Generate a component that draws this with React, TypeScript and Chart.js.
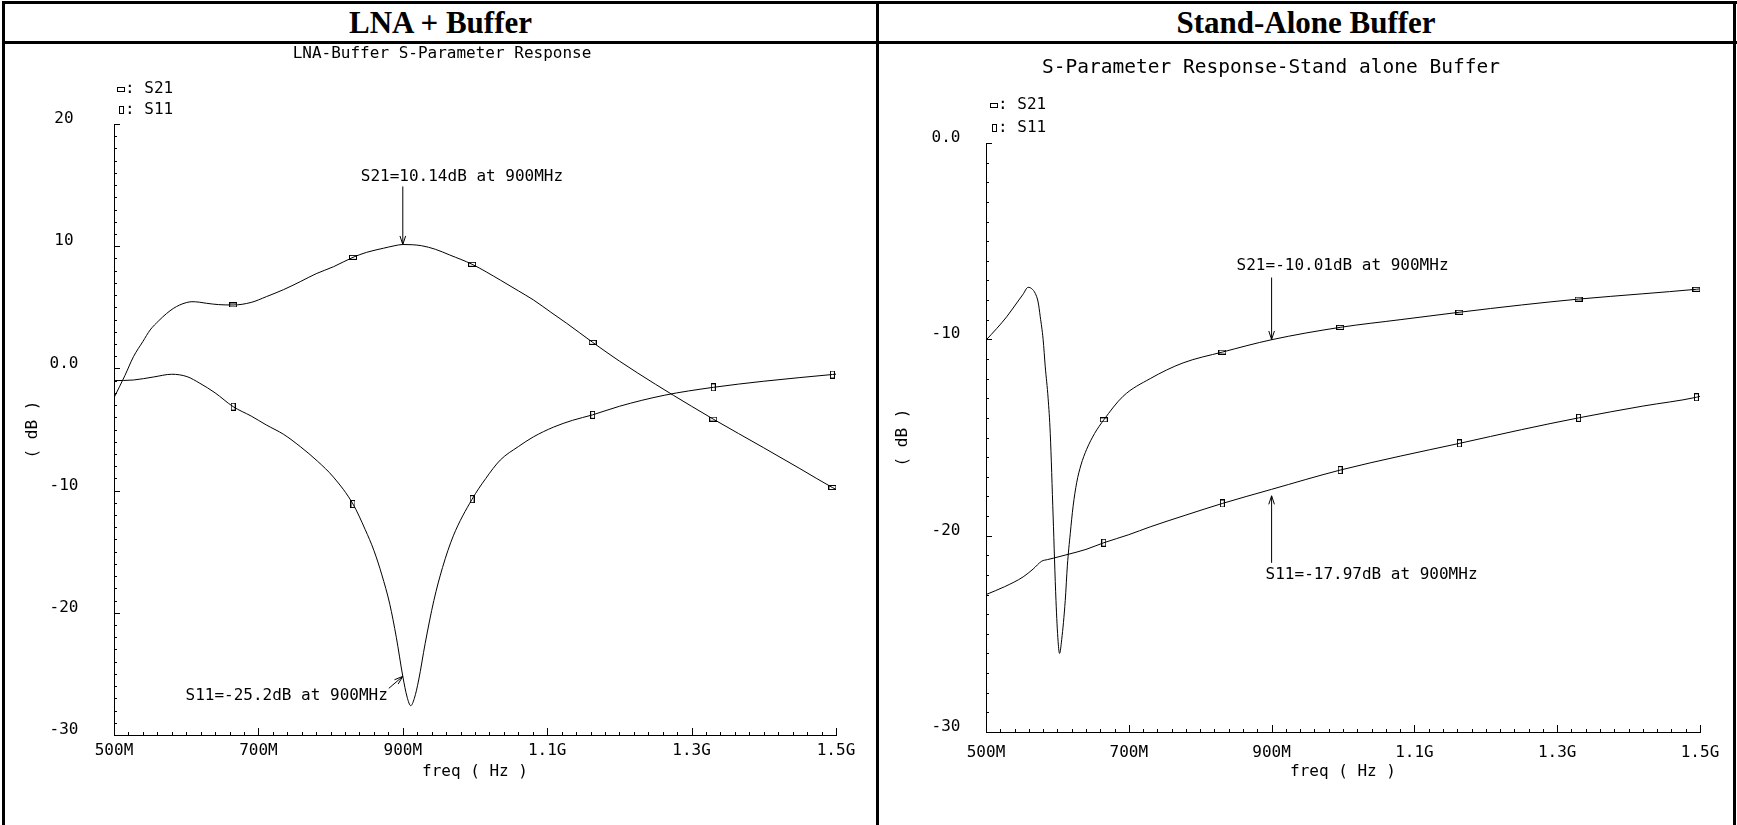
import React, { useEffect, useRef } from 'react';
import { Chart, registerables } from 'chart.js';

Chart.register(...registerables);

// ---------------- data ----------------
const X_TICKS = [500, 700, 900, 1100, 1300, 1500];
const X_TICK_LABELS = ['500M', '700M', '900M', '1.1G', '1.3G', '1.5G'];

const LEFT_Y_TICKS = [-30, -20, -10, 0, 10, 20];
const LEFT_Y_TICK_LABELS = ['-30', '-20', '-10', '0.0', '10', '20'];
const RIGHT_Y_TICKS = [-30, -20, -10, 0];
const RIGHT_Y_TICK_LABELS = ['-30', '-20', '-10', '0.0'];

const MARKER_FREQ = [665, 831, 996, 1163, 1330, 1495];

// LNA + Buffer
const LEFT_S21_FREQ = [500, 515, 527, 540, 550, 562, 573, 582, 591, 600, 608, 618, 628, 645, 665, 690, 711, 735, 758, 780, 804, 831, 850, 873, 888, 900, 913, 926, 945, 965, 996, 1035, 1060, 1081, 1105, 1127, 1163, 1200, 1250, 1300, 1330, 1400, 1450, 1495, 1500];
const LEFT_S21_DB = [-2.4, -0.6, 0.96, 2.2, 3.14, 3.9, 4.5, 4.9, 5.19, 5.38, 5.46, 5.42, 5.33, 5.22, 5.19, 5.4, 5.87, 6.45, 7.1, 7.75, 8.32, 9.09, 9.5, 9.83, 10.03, 10.14, 10.12, 10.04, 9.75, 9.28, 8.52, 7.23, 6.35, 5.6, 4.6, 3.69, 2.13, 0.6, -1.3, -3.1, -4.15, -6.5, -8.2, -9.75, -9.9];
const LEFT_S11_FREQ = [500, 527, 555, 580, 601, 619, 640, 665, 690, 711, 735, 758, 782, 804, 831, 848, 860, 871, 882, 891, 900, 906, 911, 916, 922, 931, 943, 955, 970, 996, 1015, 1035, 1060, 1081, 1109, 1135, 1163, 1200, 1262, 1330, 1400, 1450, 1495, 1500];
const LEFT_S11_DB = [-1.0, -0.95, -0.7, -0.48, -0.67, -1.22, -2.0, -3.13, -3.9, -4.63, -5.4, -6.4, -7.6, -8.9, -11.1, -13.2, -14.9, -16.9, -19.3, -22.0, -25.2, -26.9, -27.6, -27.0, -25.5, -22.5, -19.0, -16.3, -13.7, -10.7, -9.0, -7.5, -6.4, -5.6, -4.8, -4.25, -3.8, -3.1, -2.2, -1.55, -1.05, -0.75, -0.5, -0.47];

// Stand-Alone Buffer
const RIGHT_S21_FREQ = [500, 515, 529, 545, 552, 559, 564, 569, 573, 576, 580, 583, 587, 590, 594, 598, 601, 603, 606, 611, 614, 618, 622, 627, 633, 641, 652, 665, 692, 730, 776, 831, 900, 996, 1080, 1163, 1250, 1330, 1420, 1495, 1500];
const RIGHT_S21_DB = [-10.04, -9.45, -8.85, -8.05, -7.7, -7.35, -7.42, -7.66, -8.1, -8.85, -10.0, -11.4, -13.0, -14.8, -19.0, -23.3, -25.4, -26.0, -25.3, -23.3, -21.5, -19.9, -18.5, -17.3, -16.4, -15.6, -14.8, -14.1, -12.9, -12.0, -11.2, -10.65, -10.02, -9.39, -9.0, -8.62, -8.25, -7.95, -7.68, -7.45, -7.43];
const RIGHT_S11_FREQ = [500, 526, 552, 566, 578, 586, 594, 615, 640, 665, 700, 730, 780, 831, 900, 996, 1080, 1163, 1250, 1330, 1420, 1495, 1500];
const RIGHT_S11_DB = [-23.0, -22.6, -22.1, -21.7, -21.3, -21.22, -21.15, -20.95, -20.7, -20.36, -19.95, -19.55, -18.95, -18.36, -17.64, -16.66, -15.95, -15.3, -14.6, -14.0, -13.4, -12.95, -12.9];

// ---------------- styling ----------------
const MONO = '"DejaVu Sans Mono", "Liberation Mono", monospace';
const FONT_PX = 16;

function makeMark(w: number, h: number): HTMLCanvasElement {
  const c = document.createElement('canvas');
  c.width = w;
  c.height = h;
  const g = c.getContext('2d')!;
  g.strokeStyle = '#000';
  g.lineWidth = 1;
  g.strokeRect(0.5, 0.5, w - 1, h - 1);
  return c;
}

type Note = {
  text: string;
  f: number;
  v: number;
  align: 'left' | 'right';
  tdx: number;
  tdy: number;
  adx: number;
  ady: number;
};

type PanelCfg = {
  left: number;
  top: number;
  width: number;
  height: number;
  title: string;
  titleSize: number;
  yMin: number;
  yMax: number;
  yTicks: number[];
  yLabels: string[];
  s21f: number[];
  s21v: number[];
  s11f: number[];
  s11v: number[];
  pad: { left: number; right: number; top: number; bottom: number };
  titlePad: { top: number; bottom: number };
  yAxisWidth: number;
  yTickPad: number;
  yTitlePad: number;
  xAxisHeight: number;
  xTickPad: number;
  legendRows: [number, number];
  legendGlyphDx: number;
  legendTextDx: number;
  notes: Note[];
};

const LEFT_CFG: PanelCfg = {
  left: 6,
  top: 44,
  width: 870,
  height: 781,
  title: 'LNA-Buffer S-Parameter Response',
  titleSize: 16,
  yMin: -30,
  yMax: 20,
  yTicks: LEFT_Y_TICKS,
  yLabels: LEFT_Y_TICK_LABELS,
  s21f: LEFT_S21_FREQ,
  s21v: LEFT_S21_DB,
  s11f: LEFT_S11_FREQ,
  s11v: LEFT_S11_DB,
  pad: { left: 42, right: 40, top: 0, bottom: 43.4 },
  titlePad: { top: 0.4, bottom: 60.4 },
  yAxisWidth: 66,
  yTickPad: 35.6,
  yTitlePad: -24.6,
  xAxisHeight: 46.6,
  xTickPad: 6,
  legendRows: [-35, -14],
  legendGlyphDx: 7,
  legendTextDx: 11,
  notes: [
    { text: 'S21=10.14dB at 900MHz', f: 900, v: 10.14, align: 'left', tdx: -42, tdy: -68, adx: 0, ady: -58 },
    { text: 'S11=-25.2dB at 900MHz', f: 900, v: -25.2, align: 'right', tdx: -15, tdy: 19, adx: -14, ady: 12 },
  ],
};

const RIGHT_CFG: PanelCfg = {
  left: 842,
  top: 44,
  width: 892,
  height: 781,
  title: 'S-Parameter Response-Stand alone Buffer',
  titleSize: 19.5,
  yMin: -30,
  yMax: 0,
  yTicks: RIGHT_Y_TICKS,
  yLabels: RIGHT_Y_TICK_LABELS,
  s21f: RIGHT_S21_FREQ,
  s21v: RIGHT_S21_DB,
  s11f: RIGHT_S11_FREQ,
  s11v: RIGHT_S11_DB,
  pad: { left: 0, right: 34, top: 0, bottom: 43.4 },
  titlePad: { top: 12.3, bottom: 63.3 },
  yAxisWidth: 144,
  yTickPad: 25.6,
  yTitlePad: 51.4,
  xAxisHeight: 49.6,
  xTickPad: 11,
  legendRows: [-38, -15],
  legendGlyphDx: 8,
  legendTextDx: 12,
  notes: [
    { text: 'S21=-10.01dB at 900MHz', f: 900, v: -10.01, align: 'left', tdx: -35, tdy: -74, adx: 0, ady: -62 },
    { text: 'S11=-17.97dB at 900MHz', f: 900, v: -17.97, align: 'left', tdx: -6, tdy: 79, adx: 0, ady: 67 },
  ],
};

function buildChart(canvas: HTMLCanvasElement, cfg: PanelCfg): Chart {
  const markS21 = makeMark(8, 5);
  const markS11 = makeMark(5, 8);
  const markerRadius = (c: any) => (c.raw && MARKER_FREQ.includes(c.raw.x) ? 3 : 0);
  const font = { family: MONO, size: FONT_PX, weight: 'normal' as const, lineHeight: 1.2 };

  const ticksPlugin = {
    id: 'cadenceTicks',
    afterDraw(chart: any) {
      const { ctx, chartArea: a, scales } = chart;
      const x = scales.x;
      const y = scales.y;
      ctx.save();
      ctx.strokeStyle = '#000';
      ctx.lineWidth = 1;
      ctx.beginPath();
      const xSteps = Math.round((x.max - x.min) / 20);
      for (let i = 0; i <= xSteps; i++) {
        const px = Math.round(x.getPixelForValue(x.min + i * 20)) + 0.5;
        const len = i % 10 === 0 ? 7 : 3;
        ctx.moveTo(px, a.bottom);
        ctx.lineTo(px, a.bottom - len);
      }
      const ySteps = Math.round(y.max - y.min);
      for (let i = 0; i <= ySteps; i++) {
        const v = y.min + i;
        const py = Math.round(y.getPixelForValue(v)) + 0.5;
        const len = v % 10 === 0 ? 6 : 3;
        ctx.moveTo(a.left, py);
        ctx.lineTo(a.left + len, py);
      }
      ctx.stroke();
      ctx.restore();
    },
  };

  const notesPlugin = {
    id: 'cadenceNotes',
    afterDraw(chart: any) {
      const { ctx, chartArea: a, scales } = chart;
      const x = scales.x;
      const y = scales.y;
      ctx.save();
      ctx.fillStyle = '#000';
      ctx.strokeStyle = '#000';
      ctx.lineWidth = 1;
      ctx.font = `${FONT_PX}px ${MONO}`;
      ctx.textBaseline = 'middle';
      const rows: [HTMLCanvasElement, string][] = [
        [markS21, ': S21'],
        [markS11, ': S11'],
      ];
      rows.forEach(([img, label], i) => {
        const gy = a.top + cfg.legendRows[i];
        const gx = a.left + cfg.legendGlyphDx;
        ctx.drawImage(img, Math.round(gx - img.width / 2), Math.round(gy - img.height / 2));
        ctx.textAlign = 'left';
        ctx.fillText(label, a.left + cfg.legendTextDx, gy);
      });
      cfg.notes.forEach((n) => {
        const px = x.getPixelForValue(n.f);
        const py = y.getPixelForValue(n.v);
        ctx.textAlign = n.align;
        ctx.fillText(n.text, px + n.tdx, py + n.tdy);
        const tx = px + n.adx;
        const ty = py + n.ady;
        ctx.beginPath();
        ctx.moveTo(tx, ty);
        ctx.lineTo(px, py);
        const ang = Math.atan2(py - ty, px - tx);
        const hl = 9;
        const spread = 0.32;
        ctx.moveTo(px - hl * Math.cos(ang - spread), py - hl * Math.sin(ang - spread));
        ctx.lineTo(px, py);
        ctx.lineTo(px - hl * Math.cos(ang + spread), py - hl * Math.sin(ang + spread));
        ctx.stroke();
      });
      ctx.restore();
    },
  };

  const toPts = (fs: number[], vs: number[]) => fs.map((f, i) => ({ x: f, y: vs[i] }));

  return new Chart(canvas, {
    type: 'line',
    data: {
      datasets: [
        {
          label: 'S21',
          data: toPts(cfg.s21f, cfg.s21v),
          borderColor: '#000',
          borderWidth: 1,
          cubicInterpolationMode: 'monotone',
          pointStyle: markS21,
          pointRadius: markerRadius,
          pointHoverRadius: markerRadius,
          fill: false,
        },
        {
          label: 'S11',
          data: toPts(cfg.s11f, cfg.s11v),
          borderColor: '#000',
          borderWidth: 1,
          cubicInterpolationMode: 'monotone',
          pointStyle: markS11,
          pointRadius: markerRadius,
          pointHoverRadius: markerRadius,
          fill: false,
        },
      ],
    },
    options: {
      animation: false,
      responsive: false,
      maintainAspectRatio: false,
      devicePixelRatio: 1,
      events: [],
      layout: { padding: cfg.pad },
      plugins: {
        legend: { display: false },
        tooltip: { enabled: false },
        title: {
          display: true,
          text: cfg.title,
          color: '#000',
          font: { ...font, size: cfg.titleSize },
          padding: cfg.titlePad,
        },
      },
      scales: {
        x: {
          type: 'linear',
          min: 500,
          max: 1500,
          afterFit: (s: any) => {
            s.height = cfg.xAxisHeight;
          },
          grid: { display: true, drawOnChartArea: false, drawTicks: false },
          border: { display: true, color: '#000', width: 1 },
          ticks: {
            stepSize: 200,
            autoSkip: false,
            maxRotation: 0,
            padding: cfg.xTickPad,
            color: '#000',
            font,
            callback: (v: any) => {
              const i = X_TICKS.indexOf(Number(v));
              return i >= 0 ? X_TICK_LABELS[i] : '';
            },
          },
          title: {
            display: true,
            text: 'freq ( Hz )',
            color: '#000',
            font,
            padding: { top: 0, bottom: 0 },
          },
        },
        y: {
          type: 'linear',
          min: cfg.yMin,
          max: cfg.yMax,
          afterFit: (s: any) => {
            s.width = cfg.yAxisWidth;
          },
          grid: { display: true, drawOnChartArea: false, drawTicks: false },
          border: { display: true, color: '#000', width: 1 },
          ticks: {
            stepSize: 10,
            crossAlign: 'center',
            padding: cfg.yTickPad,
            labelOffset: -5,
            color: '#000',
            font,
            callback: (v: any) => {
              const i = cfg.yTicks.indexOf(Number(v));
              return i >= 0 ? cfg.yLabels[i] : '';
            },
          },
          title: {
            display: true,
            text: '( dB )',
            color: '#000',
            font,
            padding: { top: cfg.yTitlePad, bottom: 0 },
          },
        },
      },
    },
    plugins: [ticksPlugin, notesPlugin],
  } as any);
}

function Panel({ cfg }: { cfg: PanelCfg }) {
  const ref = useRef<HTMLCanvasElement>(null);
  useEffect(() => {
    if (!ref.current) return;
    const chart = buildChart(ref.current, cfg);
    return () => chart.destroy();
  }, [cfg]);
  return (
    <canvas
      ref={ref}
      width={cfg.width}
      height={cfg.height}
      style={{ position: 'absolute', left: cfg.left, top: cfg.top, width: cfg.width, height: cfg.height }}
    />
  );
}

const line = (left: number, top: number, width: number, height: number): React.CSSProperties => ({
  position: 'absolute',
  left,
  top,
  width,
  height,
  background: '#000',
});

const headerText: React.CSSProperties = {
  position: 'absolute',
  top: 4,
  height: 37,
  lineHeight: '37px',
  textAlign: 'center',
  fontFamily: '"Liberation Serif", "Times New Roman", serif',
  fontWeight: 'bold',
  fontSize: 31,
  color: '#000',
};

export default function App() {
  return (
    <div
      style={{
        position: 'absolute',
        left: 0,
        top: 0,
        width: 1737,
        height: 825,
        background: '#fff',
        overflow: 'hidden',
      }}
    >
      <div style={{ ...headerText, left: 5, width: 871 }}>LNA + Buffer</div>
      <div style={{ ...headerText, left: 879, width: 854 }}>Stand-Alone Buffer</div>
      <Panel cfg={LEFT_CFG} />
      <Panel cfg={RIGHT_CFG} />
      <div style={line(2, 1, 1735, 3)} />
      <div style={line(2, 41, 1735, 3)} />
      <div style={line(2, 1, 3, 824)} />
      <div style={line(876, 1, 3, 824)} />
      <div style={line(1733, 1, 3, 824)} />
    </div>
  );
}
